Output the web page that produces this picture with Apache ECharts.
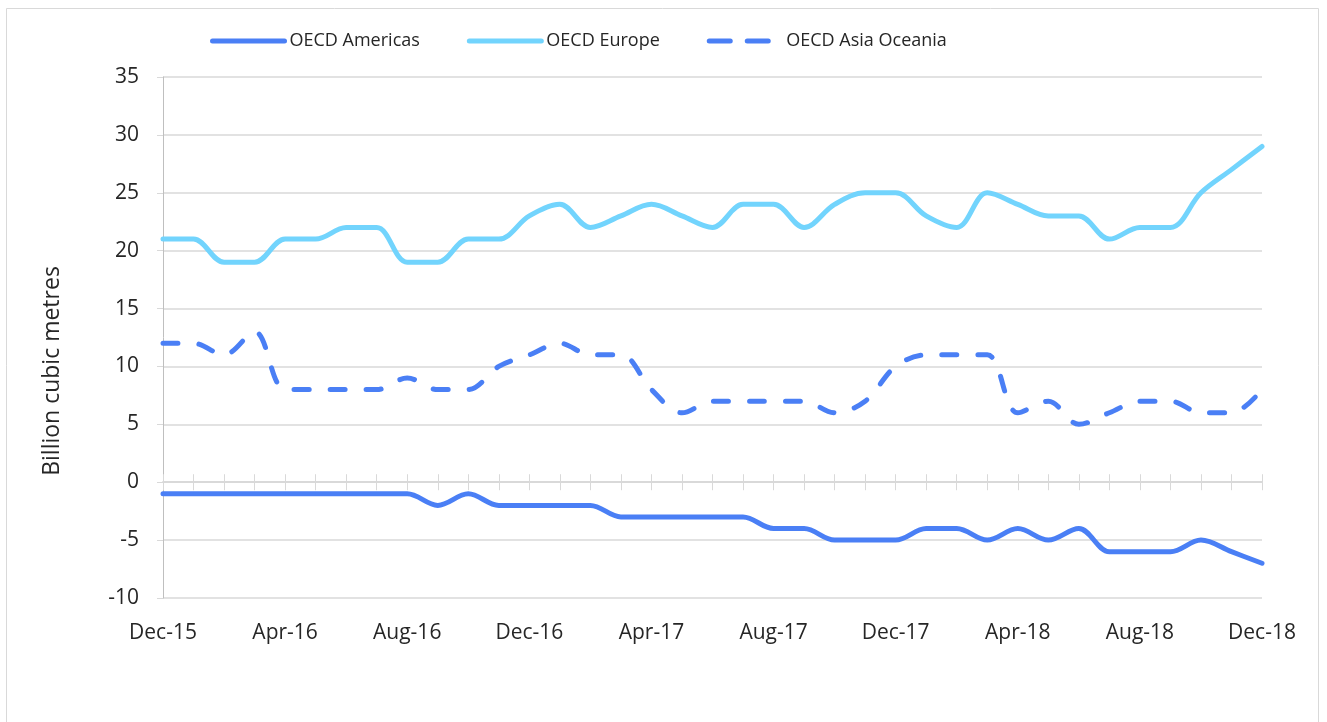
<!DOCTYPE html>
<html>
<head>
<meta charset="utf-8">
<script src="https://cdn.jsdelivr.net/npm/echarts@6/dist/echarts.min.js"></script>
<style>
html,body{margin:0;padding:0;background:#fff;}
#chart{width:1327px;height:722px;}
</style>
</head>
<body>
<div id="chart"></div>
<script>
const months = ['Dec-15','Jan-16','Feb-16','Mar-16','Apr-16','May-16','Jun-16','Jul-16','Aug-16','Sep-16','Oct-16','Nov-16',
  'Dec-16','Jan-17','Feb-17','Mar-17','Apr-17','May-17','Jun-17','Jul-17','Aug-17','Sep-17','Oct-17','Nov-17',
  'Dec-17','Jan-18','Feb-18','Mar-18','Apr-18','May-18','Jun-18','Jul-18','Aug-18','Sep-18','Oct-18','Nov-18','Dec-18'];
const oecdAmericas = [-1,-1,-1,-1,-1,-1,-1,-1,-1,-2,-1,-2,
  -2,-2,-2,-3,-3,-3,-3,-3,-4,-4,-5,-5,
  -5,-4,-4,-5,-4,-5,-4,-6,-6,-6,-5,-6,-7];
const oecdEurope = [21,21,19,19,21,21,22,22,19,19,21,21,
  23,24,22,23,24,23,22,24,24,22,24,25,
  25,23,22,25,24,23,23,21,22,22,25,27,29];
const oecdAsiaOceania = [12,12,11,13,8,8,8,8,9,8,8,10,
  11,12,11,11,8,6,7,7,7,7,6,7,
  10,11,11,11,6,7,5,6,7,7,6,6,8];
const yAxisTitle = 'Billion cubic metres';

const fontFamily = '"Open Sans", "Noto Sans", sans-serif';
const chart = echarts.init(document.getElementById('chart'));
const gridColor = '#d9d9d9';
const textColor = '#262626';
const gridBox = { left: 163, right: 65, top: 77, bottom: 124, outerBoundsMode: 'none', containLabel: false };

chart.setOption({
  animation: false,
  backgroundColor: '#fff',
  textStyle: { fontFamily: fontFamily },
  legend: {
    top: 27,
    left: 205,
    itemWidth: 72,
    itemHeight: 10,
    itemGap: 47,
    itemStyle: { opacity: 0 },
    lineStyle: { width: 5 },
    textStyle: { fontSize: 18, color: textColor, fontFamily: fontFamily },
    data: ['OECD Americas', 'OECD Europe',
      { name: 'OECD Asia Oceania', lineStyle: { type: [21, 17] } }]
  },
  grid: [Object.assign({}, gridBox), Object.assign({}, gridBox)],
  xAxis: [
    {
      type: 'category',
      gridIndex: 0,
      data: months,
      boundaryGap: false,
      position: 'bottom',
      axisLine: { show: true, onZero: true, lineStyle: { color: gridColor, width: 1.5 } },
      axisTick: { show: true, interval: 0, length: 8, lineStyle: { color: gridColor } },
      axisLabel: { interval: 3, margin: 25, fontSize: 21, color: textColor, fontFamily: fontFamily },
      splitLine: { show: false }
    },
    {
      type: 'category',
      gridIndex: 1,
      data: months,
      boundaryGap: false,
      position: 'bottom',
      axisLine: { show: true, onZero: true, lineStyle: { color: gridColor, width: 1.5 } },
      axisTick: { show: true, inside: true, interval: 0, length: 8, lineStyle: { color: gridColor } },
      axisLabel: { show: false },
      splitLine: { show: false }
    }
  ],
  yAxis: [
    {
      type: 'value',
      gridIndex: 0,
      min: -10,
      max: 35,
      interval: 5,
      axisLine: { show: true, lineStyle: { color: '#bfbfbf' } },
      axisTick: { show: true, length: 6, lineStyle: { color: gridColor } },
      axisLabel: { margin: 24, fontSize: 21, color: textColor, fontFamily: fontFamily },
      splitLine: { show: true, lineStyle: { color: gridColor, width: 1.5 } }
    },
    {
      type: 'value',
      gridIndex: 1,
      min: -10,
      max: 35,
      interval: 5,
      axisLine: { show: false },
      axisTick: { show: false },
      axisLabel: { show: false },
      splitLine: { show: false }
    }
  ],
  series: [
    {
      name: 'OECD Americas', type: 'line', data: oecdAmericas, smooth: 0.35,
      symbol: 'none', xAxisIndex: 0, yAxisIndex: 0, z: 3,
      lineStyle: { color: '#4a7ff5', width: 5, cap: 'round' },
      itemStyle: { color: '#4a7ff5' }
    },
    {
      name: 'OECD Europe', type: 'line', data: oecdEurope, smooth: 0.35,
      symbol: 'none', xAxisIndex: 0, yAxisIndex: 0, z: 3,
      lineStyle: { color: '#72d4fd', width: 5, cap: 'round' },
      itemStyle: { color: '#72d4fd' }
    },
    {
      name: 'OECD Asia Oceania', type: 'line', data: oecdAsiaOceania, smooth: 0.35,
      symbol: 'none', xAxisIndex: 0, yAxisIndex: 0, z: 3,
      lineStyle: { color: '#4a7ff5', width: 5, type: [15, 21], cap: 'round' },
      itemStyle: { color: '#4a7ff5' }
    }
  ],
  graphic: [
    {
      type: 'rect', silent: true, z: -1,
      shape: { x: 6.5, y: 8.5, width: 1312, height: 740 },
      style: { fill: 'none', stroke: '#d9d9d9', lineWidth: 1 }
    },
    {
      type: 'text', x: 52, y: 371, rotation: Math.PI / 2,
      style: { text: yAxisTitle, fontSize: 23, fill: textColor, fontFamily: fontFamily,
        align: 'center', verticalAlign: 'middle' }
    }
  ]
});
</script>
</body>
</html>
